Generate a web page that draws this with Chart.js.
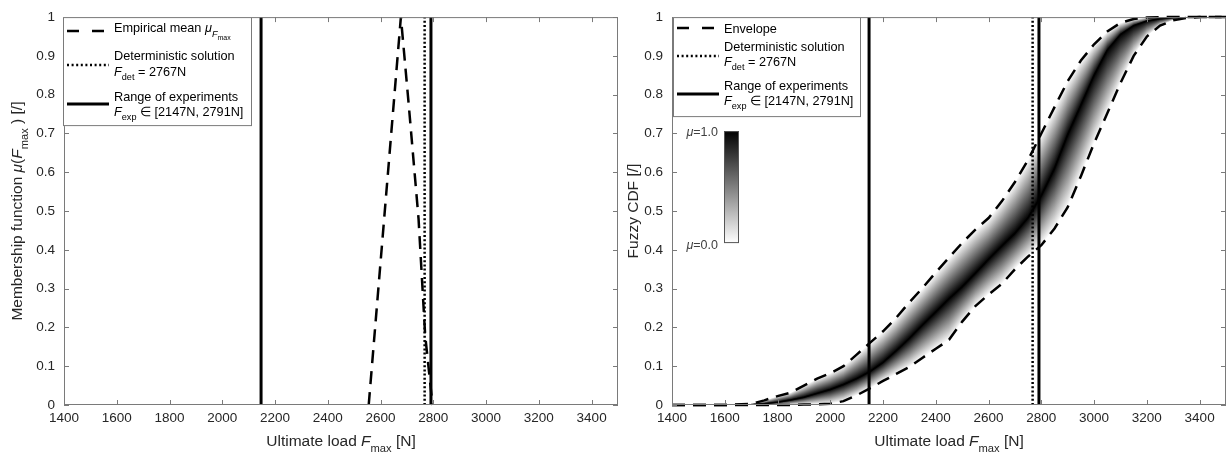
<!DOCTYPE html>
<html>
<head>
<meta charset="utf-8">
<title>Ultimate load – membership function and fuzzy CDF</title>
<script src="https://cdn.jsdelivr.net/npm/chart.js@4.4.0/dist/chart.umd.min.js"></script>
<style>
  html, body { margin: 0; padding: 0; background: #fff; }
  #wrap { position: relative; width: 1227px; height: 459px; overflow: hidden; }
  #wrap canvas { position: absolute; top: 0; }
  #membership { left: 0; }
  #fuzzyCdf { left: 620px; }
</style>
</head>
<body>
<div id="wrap">
  <canvas id="membership" width="620" height="459"></canvas>
  <canvas id="fuzzyCdf" width="607" height="459"></canvas>
</div>
<script>
// ---- axis ticks ----
const loadTicks = [1400, 1600, 1800, 2000, 2200, 2400, 2600, 2800, 3000, 3200, 3400];
const probTicks = [0, 0.1, 0.2, 0.3, 0.4, 0.5, 0.6, 0.7, 0.8, 0.9, 1];

// ---- reference values ----
const detLoad = 2767;            // deterministic solution [N]
const expLoads = [2147, 2791];   // range of experiments [N]

// ---- empirical mean membership function ----
const meanLoad = [2555, 2677, 2706, 2744, 2769, 2797];
const meanMembership = [0, 1, 0.78, 0.48, 0.18, 0];

// ---- fuzzy CDF: envelopes and the mu = 1 curve ----
const cdfLoad = [1400, 1500, 1600, 1700, 1750, 1800, 1850, 1900, 1950, 2000, 2050, 2100, 2150,
  2200, 2250, 2300, 2350, 2400, 2450, 2500, 2550, 2600, 2650, 2700, 2750, 2800, 2850, 2900,
  2950, 3000, 3050, 3100, 3150, 3200, 3250, 3300, 3350, 3400, 3500];
const cdfUpper = [0, 0, 0, 0.003, 0.012, 0.023, 0.032, 0.05, 0.068, 0.082, 0.1, 0.13, 0.16,
  0.19, 0.225, 0.265, 0.302, 0.342, 0.38, 0.418, 0.452, 0.482, 0.525, 0.575, 0.632, 0.70, 0.768, 0.835,
  0.888, 0.93, 0.963, 0.985, 0.995, 0.999, 1, 1, 1, 1, 1];
const cdfMedian = [0, 0, 0, 0.001, 0.003, 0.007, 0.013, 0.02, 0.03, 0.04, 0.053, 0.068, 0.086,
  0.11, 0.14, 0.172, 0.207, 0.24, 0.274, 0.305, 0.34, 0.376, 0.41, 0.443, 0.483, 0.54, 0.61, 0.697,
  0.773, 0.85, 0.915, 0.955, 0.978, 0.99, 0.996, 0.999, 1, 1, 1];
const cdfLower = [0, 0, 0, 0, 0, 0, 0, 0.001, 0.002, 0.003, 0.01, 0.025, 0.043,
  0.062, 0.08, 0.098, 0.122, 0.145, 0.168, 0.215, 0.255, 0.285, 0.312, 0.35, 0.383, 0.412, 0.455, 0.51,
  0.59, 0.675, 0.752, 0.83, 0.9, 0.95, 0.978, 0.992, 0.998, 1, 1];

const FONT = '"Liberation Sans", Arial, Helvetica, sans-serif';
const INK = '#262626';
const BOX = '#7a7a7a';
const DASH = [13, 8];
const DOT = [2, 2.2];
const LEGEND_SIZE = 12.7;

const toXY = (xs, ys) => xs.map((x, i) => ({ x, y: ys[i] }));
const vline = v => [{ x: v, y: 0 }, { x: v, y: 1 }];

// text pieces: lvl 1 = subscript, lvl 2 = subscript of a subscript
function rich(ctx, parts, x, y, size, draw) {
  let cx = x;
  parts.forEach(p => {
    const lvl = p.lvl || 0;
    const s = [size, size * 0.72, size * 0.55][lvl];
    const dy = [0, size * 0.38, size * 0.62][lvl];
    ctx.font = (p.it ? 'italic ' : '') + s + 'px ' + FONT;
    if (draw) ctx.fillText(p.t, cx, y + dy);
    cx += ctx.measureText(p.t).width;
  });
  return cx - x;
}

function sampleLine(ctx, kind, x0, x1, y) {
  ctx.save();
  ctx.strokeStyle = '#000';
  ctx.lineWidth = kind === 'solid' ? 3 : 2.5;
  ctx.setLineDash(kind === 'dash' ? [12, 13] : kind === 'dot' ? [2, 2.6] : []);
  ctx.beginPath();
  ctx.moveTo(x0, y);
  ctx.lineTo(x1, y);
  ctx.stroke();
  ctx.restore();
}

const fDet = [{ t: 'F', it: true }, { t: 'det', lvl: 1 }, { t: ' = ' + detLoad + 'N' }];
const fExp = [{ t: 'F', it: true }, { t: 'exp', lvl: 1 },
  { t: ' \u2208 [' + expLoads[0] + 'N, ' + expLoads[1] + 'N]' }];
const xTitle = [{ t: 'Ultimate load ' }, { t: 'F', it: true }, { t: 'max', lvl: 1 }, { t: ' [N]' }];

// axes box with inward ticks, axis titles and the boxed legend
const framePlugin = {
  id: 'frame',
  afterDatasetsDraw(chart, args, opts) {
    const { ctx, chartArea: a, scales: { x, y } } = chart;
    ctx.save();
    ctx.strokeStyle = BOX;
    ctx.lineWidth = 1;
    ctx.strokeRect(a.left + 0.5, a.top + 0.5, a.right - a.left - 1, a.bottom - a.top - 1);
    ctx.beginPath();
    loadTicks.forEach(v => {
      const px = Math.round(x.getPixelForValue(v)) + 0.5;
      ctx.moveTo(px, a.bottom); ctx.lineTo(px, a.bottom - 5);
      ctx.moveTo(px, a.top); ctx.lineTo(px, a.top + 5);
    });
    probTicks.forEach(v => {
      const py = Math.round(y.getPixelForValue(v)) + 0.5;
      ctx.moveTo(a.left, py); ctx.lineTo(a.left + 5, py);
      ctx.moveTo(a.right, py); ctx.lineTo(a.right - 5, py);
    });
    ctx.stroke();
    ctx.restore();
  },
  afterDraw(chart, args, opts) {
    const { ctx, chartArea: a } = chart;
    ctx.save();
    ctx.fillStyle = INK;
    ctx.textBaseline = 'alphabetic';

    // x title
    const tw = rich(ctx, xTitle, 0, 0, 15.5, false);
    rich(ctx, xTitle, (a.left + a.right) / 2 - tw / 2, 446, 15.5, true);

    // y title, rotated
    const yw = rich(ctx, opts.yTitle, 0, 0, 15.5, false);
    ctx.save();
    ctx.translate(opts.yTitleX, (a.top + a.bottom) / 2);
    ctx.rotate(-Math.PI / 2);
    rich(ctx, opts.yTitle, -yw / 2, 0, 15.5, true);
    ctx.restore();

    // legend box
    const lg = opts.legend;
    const bx = a.left + lg.dx;
    ctx.fillStyle = '#fff';
    ctx.fillRect(bx, a.top, lg.w, lg.h);
    ctx.strokeStyle = BOX;
    ctx.lineWidth = 1;
    ctx.strokeRect(bx + 0.5, a.top + 0.5, lg.w - 1, lg.h - 1);
    ctx.fillStyle = '#000';
    lg.rows.forEach(r => {
      sampleLine(ctx, r.kind, bx + 4, bx + 46, a.top + r.sy);
      r.lines.forEach(l => rich(ctx, l.parts, bx + 51, a.top + l.by, LEGEND_SIZE, true));
    });

    // membership colour scale
    if (opts.colorbar) {
      const cb = opts.colorbar;
      const cx = a.left + cb.dx, cy = a.top + cb.dy;
      const g = ctx.createLinearGradient(0, cy, 0, cy + cb.h);
      g.addColorStop(0, '#000');
      g.addColorStop(1, '#fff');
      ctx.fillStyle = g;
      ctx.fillRect(cx, cy, cb.w, cb.h);
      ctx.strokeStyle = '#555';
      ctx.strokeRect(cx + 0.5, cy + 0.5, cb.w - 1, cb.h - 1);
      ctx.fillStyle = '#404040';
      const top = [{ t: '\u03bc', it: true }, { t: '=1.0' }];
      const bot = [{ t: '\u03bc', it: true }, { t: '=0.0' }];
      const w1 = rich(ctx, top, 0, 0, 12.5, false);
      rich(ctx, top, cx - 6 - w1, cy + 5, 12.5, true);
      const w0 = rich(ctx, bot, 0, 0, 12.5, false);
      rich(ctx, bot, cx - 6 - w0, cy + cb.h + 6, 12.5, true);
    }
    ctx.restore();
  }
};

// grey shading between the envelopes, black on the mu = 1 curve
function pixelAt(px, py, cx) {
  for (let i = 1; i < px.length; i++) {
    if (cx <= px[i]) {
      const t = (cx - px[i - 1]) / (px[i] - px[i - 1]);
      return py[i - 1] + t * (py[i] - py[i - 1]);
    }
  }
  return py[py.length - 1];
}

const bandPlugin = {
  id: 'band',
  beforeDatasetsDraw(chart) {
    const { ctx, chartArea: a, scales: { x, y } } = chart;
    const px = cdfLoad.map(v => x.getPixelForValue(v));
    const pu = cdfUpper.map(v => y.getPixelForValue(v));
    const pm = cdfMedian.map(v => y.getPixelForValue(v));
    const pl = cdfLower.map(v => y.getPixelForValue(v));
    ctx.save();
    ctx.beginPath();
    ctx.rect(a.left, a.top, a.right - a.left, a.bottom - a.top);
    ctx.clip();
    for (let c = Math.floor(a.left); c < a.right; c++) {
      const cx = c + 0.5;
      const yu = pixelAt(px, pu, cx), ym = pixelAt(px, pm, cx), yl = pixelAt(px, pl, cx);
      if (yl - yu < 0.6) continue;
      const t = Math.min(1, Math.max(0, (ym - yu) / (yl - yu)));
      const g = ctx.createLinearGradient(0, yu, 0, yl);
      g.addColorStop(0, '#fff');
      g.addColorStop(t, '#000');
      g.addColorStop(1, '#fff');
      ctx.fillStyle = g;
      ctx.fillRect(c, yu, 1, yl - yu);
    }
    ctx.restore();
  }
};

function axes(yWidth) {
  const tickFont = { family: FONT, size: 13.5 };
  return {
    x: {
      type: 'linear', min: 1400, max: 3500,
      afterBuildTicks: s => { s.ticks = loadTicks.map(v => ({ value: v })); },
      afterFit: s => { s.height = 54; },
      grid: { display: false, drawTicks: false },
      border: { display: false },
      ticks: { padding: 5, color: INK, font: tickFont, maxRotation: 0, autoSkip: false, callback: v => String(v) }
    },
    y: {
      type: 'linear', min: 0, max: 1,
      afterBuildTicks: s => { s.ticks = probTicks.map(v => ({ value: v })); },
      afterFit: s => { s.width = yWidth; },
      grid: { display: false, drawTicks: false },
      border: { display: false },
      ticks: { padding: 9, color: INK, font: tickFont, autoSkip: false, callback: v => String(v) }
    }
  };
}

const lineDefaults = { pointRadius: 0, tension: 0, fill: false, borderColor: '#000' };

const refLines = [
  { ...lineDefaults, data: vline(detLoad), borderWidth: 2.5, borderDash: DOT },
  { ...lineDefaults, data: vline(expLoads[0]), borderWidth: 3 },
  { ...lineDefaults, data: vline(expLoads[1]), borderWidth: 3 }
];

// 1. membership function of the empirical mean
new Chart(document.getElementById('membership'), {
  type: 'line',
  data: {
    datasets: [
      { ...lineDefaults, data: toXY(meanLoad, meanMembership), borderWidth: 2.5, borderDash: DASH, clip: 3 },
      ...refLines
    ]
  },
  options: {
    responsive: false,
    animation: false,
    layout: { padding: { top: 13, right: 2, left: 0, bottom: 0 } },
    scales: axes(64),
    plugins: {
      legend: { display: false },
      tooltip: { enabled: false },
      frame: {
        yTitleX: 22,
        yTitle: [{ t: 'Membership function ' }, { t: '\u03bc', it: true }, { t: '(' }, { t: 'F', it: true },
          { t: 'max', lvl: 1 }, { t: ' ) [/]' }],
        legend: {
          dx: -1, w: 189, h: 109,
          rows: [
            { kind: 'dash', sy: 14, lines: [{ by: 15, parts: [{ t: 'Empirical mean ' }, { t: '\u03bc', it: true },
              { t: 'F', it: true, lvl: 1 }, { t: 'max', lvl: 2 }] }] },
            { kind: 'dot', sy: 48, lines: [{ by: 43, parts: [{ t: 'Deterministic solution' }] }, { by: 58.5, parts: fDet }] },
            { kind: 'solid', sy: 87, lines: [{ by: 83.5, parts: [{ t: 'Range of experiments' }] }, { by: 98.5, parts: fExp }] }
          ]
        }
      }
    }
  },
  plugins: [framePlugin]
});

// 2. fuzzy CDF of the ultimate load
new Chart(document.getElementById('fuzzyCdf'), {
  type: 'line',
  data: {
    datasets: [
      { ...lineDefaults, data: toXY(cdfLoad, cdfMedian), borderWidth: 1.5 },
      { ...lineDefaults, data: toXY(cdfLoad, cdfUpper), borderWidth: 2.5, borderDash: DASH, clip: 3 },
      { ...lineDefaults, data: toXY(cdfLoad, cdfLower), borderWidth: 2.5, borderDash: DASH, clip: 3 },
      ...refLines
    ]
  },
  options: {
    responsive: false,
    animation: false,
    layout: { padding: { top: 13, right: 1, left: 0, bottom: 0 } },
    scales: axes(52),
    plugins: {
      legend: { display: false },
      tooltip: { enabled: false },
      frame: {
        yTitleX: 18,
        yTitle: [{ t: 'Fuzzy CDF [/]' }],
        colorbar: { dx: 52, dy: 114, w: 15, h: 112 },
        legend: {
          dx: 1, w: 188, h: 100,
          rows: [
            { kind: 'dash', sy: 11, lines: [{ by: 16, parts: [{ t: 'Envelope' }] }] },
            { kind: 'dot', sy: 39, lines: [{ by: 33.5, parts: [{ t: 'Deterministic solution' }] }, { by: 48.5, parts: fDet }] },
            { kind: 'solid', sy: 77, lines: [{ by: 73, parts: [{ t: 'Range of experiments' }] }, { by: 87.5, parts: fExp }] }
          ]
        }
      }
    }
  },
  plugins: [bandPlugin, framePlugin]
});
</script>
</body>
</html>
